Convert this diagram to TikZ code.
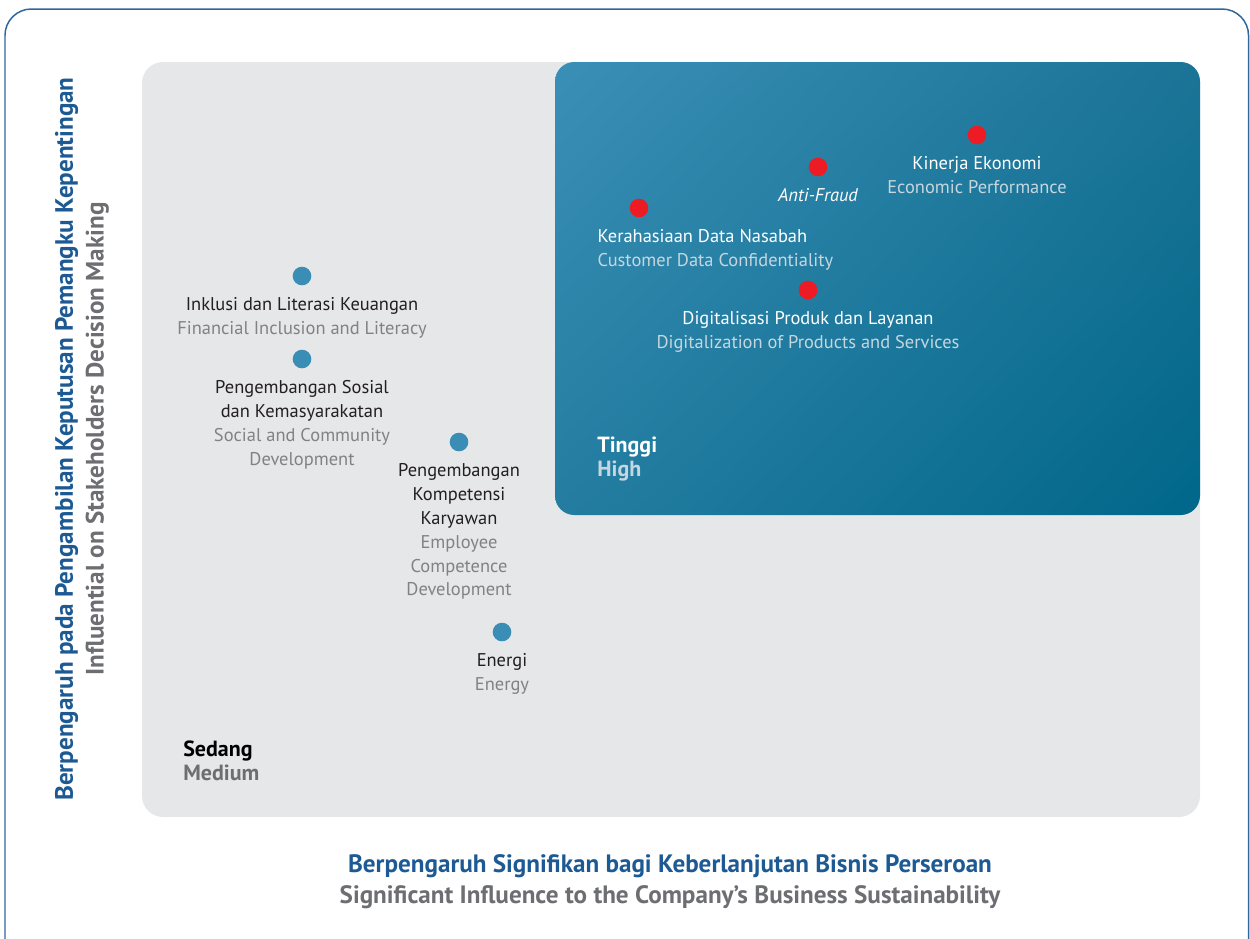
\documentclass[tikz,border=0pt]{standalone}
\usepackage{fontspec}
\setmainfont{PT Sans}
\usepackage{tikz}
\usetikzlibrary{positioning,shadings}
\definecolor{frameblue}{HTML}{2E679C}
\definecolor{titleblue}{HTML}{1D5A94}
\definecolor{axisgray}{HTML}{6D6E71}
\definecolor{panelgray}{HTML}{E6E7E8}
\definecolor{hiul}{HTML}{3A8FB6}
\definecolor{hiur}{HTML}{1B7496}
\definecolor{hill}{HTML}{247DA1}
\definecolor{hilr}{HTML}{00678A}
\definecolor{dotred}{HTML}{ED1C24}
\definecolor{dotblue}{HTML}{3A8DB4}
\definecolor{engray}{HTML}{808285}
\definecolor{enlight}{HTML}{C6D6DF}
\definecolor{txtblack}{HTML}{231F20}
\tikzset{topicdot/.style = {circle,fill=#1,inner sep=0pt,minimum size=10.6pt},
	hitext/.style = {text=white,align=center,inner sep=0pt,font=\fontsize{10.5}{13.6}\selectfont},
	lowtext/.style = {text=txtblack,align=center,inner sep=0pt,font=\fontsize{10.5}{13.6}\selectfont},
	levelname/.style = {text=#1,align=left,inner sep=0pt,font=\bfseries\fontsize{12.5}{13.6}\selectfont},
	axisname/.style = {align=center,inner sep=0pt,font=\bfseries\fontsize{14.3}{17.5}\selectfont}}
\NewDocumentCommand{\topic}{O{dotblue} m m m m}{%
	\node[topicdot=#1] (#2) at #3 {};
	\node[#4,below=6.5pt of #2] (#2-t) {#5};
}

\begin{document}
\begin{tikzpicture}[x=0.02cm,y=-0.02cm]
\useasboundingbox (0,0) rectangle (1250,938);
\draw[frameblue,line width=0.85pt,rounded corners=15pt] (5,9) rectangle (1248.5,975);
\fill[panelgray,rounded corners=12pt] (142,62) rectangle (1200,817);
\shade[rounded corners=11pt,upper left=hiul,upper right=hiur,lower left=hill,lower right=hilr] (555,62) rectangle (1200,515);

\topic[dotred]{ke}{(977,135)}{hitext}{Kinerja Ekonomi\\\color{enlight}Economic Performance}
\topic[dotred]{af}{(818,167)}{hitext}{\itshape Anti-Fraud}
\node[topicdot=dotred] (kdn) at (639,208) {};
\node[hitext,align=left,below=6.3pt of kdn,anchor=north west,xshift=-23.8pt] (kdn-t) {Kerahasiaan Data Nasabah\\\color{enlight}Customer Data Confidentiality};
\topic[dotred]{dpl}{(808,290)}{hitext}{Digitalisasi Produk dan Layanan\\\color{enlight}Digitalization of Products and Services}
\node[levelname=white,anchor=west] (tinggi) at (597,459) {Tinggi\\\color{enlight}High};

\topic{ilk}{(302,276)}{lowtext}{Inklusi dan Literasi Keuangan\\\color{engray}Financial Inclusion and Literacy}
\topic{psk}{(302,359)}{lowtext}{Pengembangan Sosial\\dan Kemasyarakatan\\\color{engray}Social and Community\\\color{engray}Development}
\topic{pkk}{(459,442)}{lowtext}{Pengembangan\\Kompetensi\\Karyawan\\\color{engray}Employee\\\color{engray}Competence\\\color{engray}Development}
\topic{en}{(502,632)}{lowtext}{Energi\\\color{engray}Energy}
\node[levelname=black,anchor=west] (sedang) at (183,761) {Sedang\\\color{axisgray}Medium};

\node[axisname,rotate=90] (yaxis) at (82,439) {\color{titleblue}Berpengaruh pada Pengambilan Keputusan Pemangku Kepentingan\\\color{axisgray}Influential on Stakeholders Decision Making};
\node[axisname] (xaxis) at (670,882) {\color{titleblue}Berpengaruh Signifikan bagi Keberlanjutan Bisnis Perseroan\\\color{axisgray}Significant Influence to the Company’s Business Sustainability};
\end{tikzpicture}
\end{document}
